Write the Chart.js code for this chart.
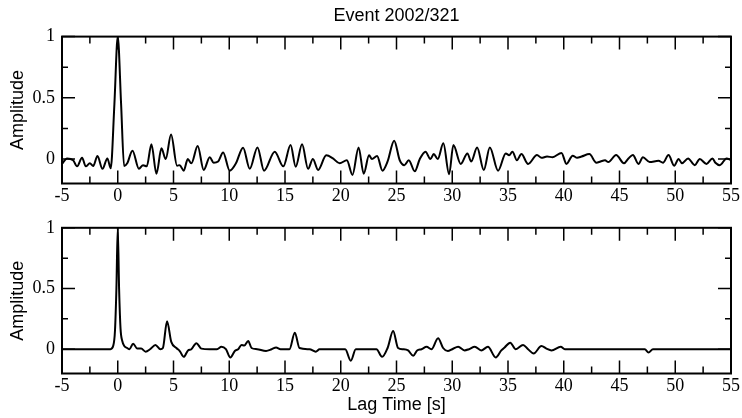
<!DOCTYPE html>
<html>
<head>
<meta charset="utf-8">
<script src="https://cdn.jsdelivr.net/npm/chart.js@4.4.1/dist/chart.umd.min.js"></script>
<style>
  body { margin: 0; background: #fff; }
  #wrap { position: relative; width: 742px; height: 418px; }
  #chart-top { position: absolute; left: 0; top: 0; }
  #chart-bottom { position: absolute; left: 0; top: 210px; }
</style>
</head>
<body>
<div id="wrap">
  <canvas id="chart-top" width="742" height="210"></canvas>
  <canvas id="chart-bottom" width="742" height="208"></canvas>
</div>
<script>
// Axis ticks
const lagTicks = [-5, 0, 5, 10, 15, 20, 25, 30, 35, 40, 45, 50, 55];
const lagMinorTicks = [-2.5, 2.5, 7.5, 12.5, 17.5, 22.5, 27.5, 32.5, 37.5, 42.5, 47.5, 52.5];
const ampTicks = [0, 0.5, 1];
const ampMinorTicks = [0.25, 0.75];

// Top trace (lag time [s], amplitude) - read at turning points
const topLag = [
  -5, -4.55, -4.0, -3.65, -3.2, -2.87, -2.5, -2.2, -1.82, -1.37, -0.93, -0.63,
  -0.3, 0, 0.3, 0.57, 0.85, 1.32, 1.9, 2.27, 2.6, 3.02, 3.47, 3.92, 4.3, 4.78,
  5.32, 5.55, 5.92, 6.28, 6.6, 7.17, 7.71, 8.25, 8.6, 9.0, 9.45, 10.04, 10.6,
  11.24, 11.84, 12.53, 13.12, 14.08, 14.85, 15.5, 15.96, 16.53, 17.07, 17.5,
  17.97, 18.7, 19.3, 19.9, 20.55, 21.05, 21.6, 22.06, 22.54, 22.8, 23.26, 23.74,
  24.2, 24.79, 25.29, 25.7, 26.1, 26.64, 27.09, 27.6, 28.04, 28.34, 28.7, 29.2,
  29.72, 30.1, 30.76, 31.36, 31.7, 32.23, 32.83, 33.37, 34.11, 34.8, 35.1,
  35.4, 35.8, 36.2, 36.8, 37.6, 38.0, 38.5, 39.0, 39.8, 40.24, 40.8, 41.2,
  41.6, 42.3, 42.93, 43.3, 43.7, 44.0, 44.7, 45.4, 45.8, 46.2, 46.7, 47.1,
  47.7, 48.5, 48.9, 49.4, 49.9, 50.3, 50.6, 51.15, 51.75, 52.2, 52.8, 53.34,
  53.6, 54.0, 54.6, 55
];
const topAmp = [
  -0.04, 0.005, -0.01, -0.06, 0.01, -0.06, -0.035, -0.057, 0.025, -0.08, 0.005, -0.076,
  0.45, 1.0, 0.45, -0.057, -0.035, 0.068, -0.08, -0.05, -0.06, 0.12, -0.12, 0.087, 0.0, 0.2,
  -0.054, -0.05, -0.095, 0.0, -0.035, 0.106, -0.09, 0.014, -0.03, -0.02, 0.054, -0.095, -0.035,
  0.092, -0.08, 0.095, -0.095, 0.06, -0.06, 0.114, -0.063, 0.12, -0.08, 0.0,
  -0.09, 0.03, 0.005, -0.035, -0.01, -0.13, 0.095, -0.12, 0.03, 0.0, 0.025, -0.095,
  -0.02, 0.15, -0.01, -0.05, -0.01, -0.1, 0.0, 0.06, 0.0, 0.04, 0.0, 0.128,
  -0.125, 0.114, -0.04, 0.046, -0.02, 0.095, -0.09, 0.095, -0.095, 0.046, 0.03,
  0.06, -0.01, 0.04, -0.04, 0.033, 0.01, 0.02, 0.015, 0.05, -0.04, 0.027, 0.01,
  0.02, 0.04, -0.03, -0.02, -0.01, -0.025, 0.033, -0.035, 0.005, 0.033, -0.04, 0.014,
  -0.025, -0.015, -0.03, 0.033, -0.054, 0.0, -0.035, 0.005, -0.05, 0.0, -0.04, 0.005,
  -0.03, -0.05, 0.005, -0.01
];

// Bottom trace
const botLag = [
  -5, -0.65, -0.4, -0.25, -0.12, 0, 0.12, 0.25, 0.4, 0.6, 0.85, 1.05, 1.38, 1.75,
  2.1, 2.5, 2.9, 3.38, 3.83, 4.05, 4.42, 4.8, 5.26, 5.56, 5.92, 6.3, 6.6, 7.05,
  7.5, 8.25, 8.9, 9.3, 9.7, 10.1, 10.5, 10.8, 11.1, 11.35, 11.7, 12.0, 12.5,
  13.3, 13.8, 14.2, 14.6, 15.4, 15.88, 16.3, 17.2, 17.76, 18.1, 20.4, 20.9,
  21.35, 23.2, 23.71, 24.2, 24.7, 25.14, 25.6, 26.04, 26.5, 26.85, 27.24, 27.7,
  28.13, 28.73, 29.18, 29.6, 30.0, 30.53, 31.1, 31.5, 32.02, 32.6, 33.2, 33.9,
  34.4, 34.7, 35.2, 35.7, 36.35, 36.8, 37.3, 38.0, 38.45, 38.9, 39.73, 40.1,
  47.27, 47.6, 48.0, 55
];
const botAmp = [
  0, 0, 0.03, 0.15, 0.5, 1, 0.5, 0.17, 0.07, 0.025, 0.01, 0.0, 0.046, 0.005,
  0.005, -0.02, 0.0, 0.035, 0.0, 0.01, 0.23, 0.06, 0.01, -0.015, -0.063, -0.01, 0.0, 0.05,
  0.005, 0.0, 0.0, 0.02, 0.0, -0.068, -0.015, 0.0, 0.035, 0.03, 0.068, 0.01, 0.0,
  -0.014, 0.0, 0.014, 0.0, 0.0, 0.136, 0.01, 0.0, -0.02, 0.0, 0.0, -0.095,
  0.0, 0.0, -0.063, 0.01, 0.15, 0.01, 0.0, -0.01, -0.054, -0.01, 0.0, 0.02,
  0.0, 0.09, 0.01, -0.015, 0.0, 0.02, -0.01, 0.0, 0.02, -0.01, 0.02, -0.068,
  -0.01, 0.015, 0.054, 0.0, 0.035, 0.0, -0.035, 0.027, 0.005, -0.01, 0.02, 0.0,
  0.0, -0.027, 0.0, 0
];

const sans = "'Liberation Sans', Arial, sans-serif";
const serif = "'Liberation Serif', 'Times New Roman', serif";

// inward ticks on all four sides plus the box frame
const frameTicks = {
  id: "frameTicks",
  afterDatasetsDraw(chart) {
    const { ctx, chartArea: a, scales } = chart;
    const x = scales.x;
    const y = scales.y;
    ctx.save();
    ctx.strokeStyle = "#000";
    ctx.lineWidth = 1.5;
    ctx.beginPath();
    const xMark = (v, len) => {
      const px = x.getPixelForValue(v);
      ctx.moveTo(px, a.bottom);
      ctx.lineTo(px, a.bottom - len);
      ctx.moveTo(px, a.top);
      ctx.lineTo(px, a.top + len);
    };
    const yMark = (v, len) => {
      const py = y.getPixelForValue(v);
      ctx.moveTo(a.left, py);
      ctx.lineTo(a.left + len, py);
      ctx.moveTo(a.right, py);
      ctx.lineTo(a.right - len, py);
    };
    lagTicks.forEach((v) => xMark(v, 13));
    lagMinorTicks.forEach((v) => xMark(v, 7));
    ampTicks.forEach((v) => yMark(v, 13));
    ampMinorTicks.forEach((v) => yMark(v, 6));
    ctx.stroke();
    ctx.lineWidth = 2;
    ctx.strokeRect(a.left, a.top, a.right - a.left, a.bottom - a.top);
    ctx.restore();
  },
};

function makeChart(canvasId, lags, amps, opts) {
  const ctx = document.getElementById(canvasId).getContext("2d");
  return new Chart(ctx, {
    type: "line",
    data: {
      datasets: [
        {
          data: lags.map((t, i) => ({ x: t, y: amps[i] })),
          borderColor: "#000",
          borderWidth: 2,
          pointRadius: 0,
          cubicInterpolationMode: "monotone",
          fill: false,
        },
      ],
    },
    options: {
      responsive: false,
      devicePixelRatio: 1,
      animation: false,
      layout: { padding: { top: opts.padTop, right: 11, left: 0, bottom: 0 } },
      plugins: {
        legend: { display: false },
        tooltip: { enabled: false },
        title: opts.title
          ? {
              display: true,
              text: opts.title,
              fullSize: false,
              color: "#000",
              font: { family: sans, size: 18, weight: "normal" },
              padding: { top: 5, bottom: 10 },
            }
          : { display: false },
      },
      scales: {
        x: {
          type: "linear",
          min: -5,
          max: 55,
          grid: { display: false, drawTicks: false },
          border: { display: false },
          afterBuildTicks: (s) => {
            s.ticks = lagTicks.map((v) => ({ value: v }));
          },
          afterFit: (s) => {
            s.height = opts.xHeight;
          },
          ticks: {
            color: "#000",
            padding: 2,
            maxRotation: 0,
            font: { family: serif, size: 18 },
            callback: (v) => String(v),
          },
          title: {
            display: !!opts.xTitle,
            text: opts.xTitle || "",
            color: "#000",
            font: { family: sans, size: 18 },
            padding: { top: 0, bottom: 2 },
          },
        },
        y: {
          type: "linear",
          min: -0.2,
          max: 1,
          grid: { display: false, drawTicks: false },
          border: { display: false },
          afterBuildTicks: (s) => {
            s.ticks = ampTicks.map((v) => ({ value: v }));
          },
          afterFit: (s) => {
            s.width = 62;
          },
          ticks: {
            color: "#000",
            padding: 7,
            font: { family: serif, size: 18 },
            callback: (v) => String(v),
          },
          title: {
            display: true,
            text: "Amplitude",
            color: "#000",
            font: { family: sans, size: 18 },
            padding: { top: 7, bottom: 0 },
          },
        },
      },
    },
    plugins: [frameTicks],
  });
}

makeChart("chart-top", topLag, topAmp, {
  title: "Event 2002/321",
  padTop: 0,
  xHeight: 26.5,
});

makeChart("chart-bottom", botLag, botAmp, {
  padTop: 16,
  xHeight: 44.5,
  xTitle: "Lag Time [s]",
});
</script>
</body>
</html>
